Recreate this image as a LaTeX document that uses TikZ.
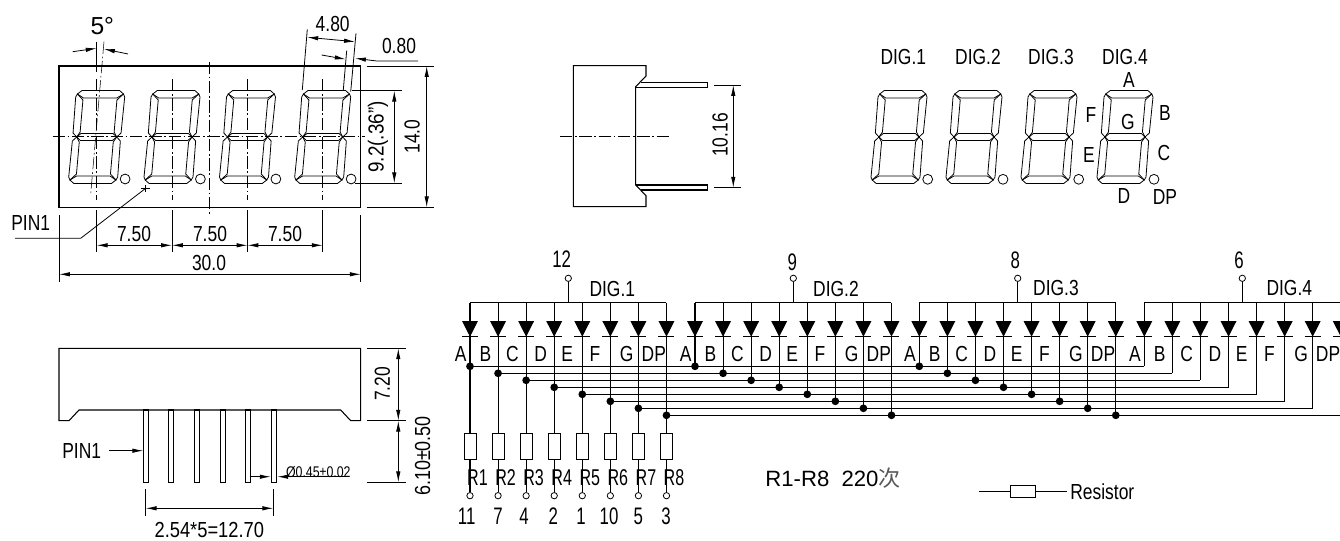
\documentclass[tikz,border=0pt]{standalone}
\usepackage{fontspec}
\usepackage{graphicx}
\usepackage{tikz}
\usetikzlibrary{arrows.meta}
\setmainfont[FakeStretch=0.8]{Liberation Sans}
\newfontfamily\widefont{Liberation Sans}
\newfontfamily\cjk{Noto Sans CJK SC}
\newcommand{\narrowed}[1]{\scalebox{0.88}[1]{#1}}
\tikzset{
  every node/.style={inner sep=0pt,font=\fontsize{12.4}{14}\selectfont},
  part/.style={line width=0.6pt},
  seg/.style={line width=0.45pt},
  extline/.style={line width=0.45pt},
  dimline/.style={line width=0.45pt,{Latex[length=6.2pt,width=2.5pt]}-{Latex[length=6.2pt,width=2.5pt]}},
  leader/.style={line width=0.45pt,-{Latex[length=6.2pt,width=2.5pt]}},
  centerline/.style={line width=0.3pt,dash pattern=on 7pt off 1.5pt on 1pt off 1.5pt},
  wire/.style={line width=0.6pt},
  dpring/.style={circle,draw,line width=0.45pt,minimum size=5.6pt},
  pinring/.style={circle,draw,fill=white,line width=0.45pt,minimum size=3.6pt},
  junction/.style={circle,fill=black,minimum size=4.4pt},
  resbox/.style={rectangle,draw,fill=white,line width=0.5pt,minimum width=6.8pt,minimum height=14.6pt},
  big/.style={font=\fontsize{14}{16}\selectfont\widefont},
}
\newcommand{\segdigit}[2]{%
  \begin{scope}[shift={(#1,#2)},xslant=0.0875]
    \draw[seg] (-18.8,-46.5) -- (18.8,-46.5) -- (23,-43) -- (16.7,-39) -- (-16.7,-39) -- (-23,-43) -- cycle;
    \draw[seg] (-18.8,46.5) -- (18.8,46.5) -- (23,43) -- (16.7,39) -- (-16.7,39) -- (-23,43) -- cycle;
    \draw[seg] (-20,0) -- (-16,-3.5) -- (16,-3.5) -- (20,0) -- (16,3.5) -- (-16,3.5) -- cycle;
    \foreach \sx in {-1,1}
      \foreach \sy in {-1,1}
        \draw[seg] ({\sx*23},{\sy*43}) -- ({\sx*24.5},{\sy*40}) -- ({\sx*24},{\sy*4}) -- ({\sx*20},0) -- ({\sx*17},{\sy*5}) -- ({\sx*17},{\sy*37}) -- cycle;
  \end{scope}}

\begin{document}
\begin{tikzpicture}[x=0.02cm,y=-0.02cm]
  \useasboundingbox (0,0) rectangle (1340,541);

  \draw[part] (59,66) rectangle (360.7,207.3);
  \foreach \n/\cx in {1/96.7,2/172,3/247.5,4/322.7} {
    \segdigit{\cx}{137}
    \node[dpring] (dot\n) at (\cx+28.4,179) {};
    \draw[centerline] (\cx,79) -- (\cx,200);
    \draw[extline] (\cx,210) -- (\cx,251.7);
  }
  \draw[centerline] (52.7,136.7) -- (365,136.7);
  \draw[centerline] (209.5,61.7) -- (209.5,216);
  \draw[extline] (96.7,41.7) -- (96.7,72);
  \draw[centerline] (104,41.7) -- (90.7,194);
  \draw[leader] (72.7,51.7) -- (96.7,48.3);
  \draw[leader] (128,54) -- (104,49);
  \node[big] (five) at (102.3,26) {5°};

  \draw[extline] (59,215) -- (59,281.7);
  \draw[extline] (360.7,215) -- (360.7,281.7);
  \foreach \a/\b/\tx in {96.7/172/134,172/247.5/210,247.5/322.7/285} {
    \draw[dimline] (\a,245.3) -- (\b,245.3);
    \node (pitch\tx) at (\tx,234) {7.50};
  }
  \draw[dimline] (59,274.3) -- (360.7,274.3);
  \node (width) at (209,263) {30.0};

  \draw[extline] (366.7,66) -- (434,66);
  \draw[extline] (366.7,207.3) -- (434,207.3);
  \draw[dimline] (426.7,66) -- (426.7,207.3);
  \node[rotate=90] (height) at (412,136.7) {14.0};
  \draw[extline] (351.7,90.7) -- (401.7,90.7);
  \draw[extline] (355,183.3) -- (401.7,183.3);
  \draw[dimline] (394.3,90.7) -- (394.3,183.3);
  \node[rotate=90] (digith) at (378,137) {\scalebox{1.08}[1]{9.2(.36")}};

  \draw[extline] (302.3,90) -- (307.3,29.3);
  \draw[extline] (350.7,91.7) -- (356,33.3);
  \draw[extline] (343.3,90) -- (346.7,50.7);
  \draw[dimline] (307.3,37.3) -- (355,41.7);
  \node (digitw) at (332.7,24) {4.80};
  \draw[leader] (321.7,55) -- (345.7,59.3);
  \draw[leader] (418,61) -- (376.7,61) -- (355,58.3);
  \node (segw) at (399,46) {0.80};

  \node (pinone) at (30.7,222.7) {PIN1};
  \draw[extline] (15,238.3) -- (80.7,238.3) -- (145.7,188.3);
  \draw[extline] (141,188.3) -- (150.4,188.3);
  \draw[extline] (145.7,185) -- (145.7,191.6);

  \draw[part] (59,348.3) -- (360.7,348.3) -- (360.7,420.7) -- (350.7,420.7) -- (340.7,410) -- (79,410) -- (69,420.7) -- (59,420.7) -- cycle;
  \foreach \cx in {145.8,171.4,197,222.6,248.2,274}
    \draw[part] (\cx-2.5,410) rectangle (\cx+2.5,482.3);
  \draw[extline] (366.7,348.3) -- (406,348.3);
  \draw[extline] (366.7,420.7) -- (406,420.7);
  \draw[extline] (366.7,482.3) -- (406,482.3);
  \draw[dimline] (398.3,348.3) -- (398.3,420.7);
  \draw[dimline] (398.3,420.7) -- (398.3,482.3);
  \node[rotate=90] (bodyh) at (382.3,384) {7.20};
  \node[rotate=90] (pinh) at (422.7,456) {\scalebox{1.03}[1]{6.10±0.50}};
  \node (pinonea) at (81.7,450.7) {PIN1};
  \draw[leader] (109.3,450.7) -- (143.3,450.7);
  \draw[leader] (250.7,476.7) -- (270.7,476.7);
  \draw[leader] (348.3,476.7) -- (277.3,476.7);
  \node[font=\fontsize{8.8}{10}\selectfont] (pind) at (318.3,471.7) {Ø0.45±0.02};
  \draw[extline] (145.7,489.3) -- (145.7,515.7);
  \draw[extline] (273.3,489.3) -- (273.3,515.7);
  \draw[dimline] (145.7,508.3) -- (273.3,508.3);
  \node (pinrow) at (209.3,529.5) {\scalebox{1.05}[1]{2.54*5=12.70}};

  \draw[part] (573.3,65.7) -- (646,65.7) -- (646,76) -- (635.7,86.7) -- (635.7,185) -- (646,195.7) -- (646,206.7) -- (573.3,206.7) -- cycle;
  \draw[part] (640.7,82.7) -- (707.3,82.7) -- (707.3,87.3) -- (635.7,87.3);
  \draw[part] (635.7,185) -- (707.3,185) -- (707.3,190) -- (640.7,190);
  \draw[centerline] (560,136) -- (669,136);
  \draw[extline] (714.3,85) -- (741,85);
  \draw[extline] (714.3,187.7) -- (741,187.7);
  \draw[dimline] (733.3,85) -- (733.3,187.7);
  \node[rotate=90] (rowgap) at (720,135) {10.16};

  \foreach \n/\cx/\dx/\tx in {1/899/927.7/903.3,2/974/1003/978,3/1049/1078.7/1051,4/1125/1154/1125} {
    \segdigit{\cx}{137}
    \node[dpring] (ring\n) at (\dx,179.3) {};
    \node (dig\n) at (\tx,57) {DIG.\n};
  }
  \foreach \s/\tx/\ty in {A/1129/80,B/1165/113,F/1091/115,G/1128/122,E/1089/155,C/1164/153,D/1124/196,DP/1165/197}
    \node (seg\s) at (\tx,\ty) {\s};

  \foreach \g/\gx/\lx/\pin/\ptx/\pty/\dtx/\dty in {1/470/568.3/12/561.7/259/612.3/289.3,2/695/793.3/9/792.3/262.7/836/289.3,3/919.3/1017.7/8/1015.3/260.7/1056/288.3,4/1144.3/1242.3/6/1239/260.7/1289.3/288.3} {
    \foreach \i/\s/\off in {0/A/-9.3,1/B/-12.7,2/C/-13.7,3/D/-13.6,4/E/-15,5/F/-15.3,6/G/-11.7,7/DP/-12.7} {
      \pgfmathsetmacro\cx{\gx+\i*28.07}
      \pgfmathsetmacro\ny{366.3+\i*7}
      \coordinate (top\g\i) at (\cx,302.7);
      \coordinate (net\g\i) at (\cx,\ny);
      \draw[wire] (top\g\i) -- (net\g\i);
      \fill (\cx-8,321) -- (\cx+8,321) -- (\cx,336.7) -- cycle;
      \draw[wire] (\cx-8,336.7) -- (\cx+8,336.7);
      \node (lab\g\i) at (\cx+\off,354.3) {\s};
    }
    \coordinate (rail\g) at (\lx,302.7);
    \node[pinring] (lead\g) at (\lx,278.3) {};
    \draw[wire] (top\g0) -- (top\g7);
    \draw[wire] (lead\g) -- (rail\g);
    \node[font=\fontsize{13.6}{15}\selectfont] (pin\g) at (\ptx,\pty) {\narrowed{\pin}};
    \node (name\g) at (\dtx,\dty) {DIG.\g};
  }
  \foreach \i/\pin/\ptx in {0/11/466.7,1/7/498,2/4/524,3/2/553.3,4/1/581,5/10/609,6/5/638.3,7/3/666} {
    \pgfmathsetmacro\cx{470+\i*28.07}
    \pgfmathtruncatemacro\r{\i+1}
    \draw[wire] (net1\i) -- (net4\i);
    \foreach \g in {1,2,3}
      \node[junction] (jn\g\i) at (net\g\i) {};
    \node[resbox] (res\i) at (\cx,446.2) {};
    \node[pinring] (foot\i) at (\cx,495.7) {};
    \draw[wire] (net1\i) -- (res\i);
    \draw[wire] (res\i) -- (foot\i);
    \node[font=\fontsize{13}{15}\selectfont] (rlab\i) at (\cx+7.5,478) {\narrowed{R\r}};
    \node[font=\fontsize{13.6}{15}\selectfont] (foot\pin) at (\ptx,516) {\narrowed{\pin}};
  }

  \node[anchor=west,font=\fontsize{12.6}{14}\selectfont\widefont] (rvalue) at (765,478) {R1-R8\ \ 220{\cjk\color{black!65}次}};

  \coordinate (lega) at (979.3,491.7);
  \coordinate (legb) at (1066.7,491.7);
  \node[rectangle,draw,line width=0.5pt,minimum width=14.2pt,minimum height=6.8pt] (legres) at (1023.2,491.7) {};
  \draw[extline] (lega) -- (legres);
  \draw[extline] (legres) -- (legb);
  \node[anchor=west] (legtext) at (1070,491.7) {Resistor};
\end{tikzpicture}
\end{document}
